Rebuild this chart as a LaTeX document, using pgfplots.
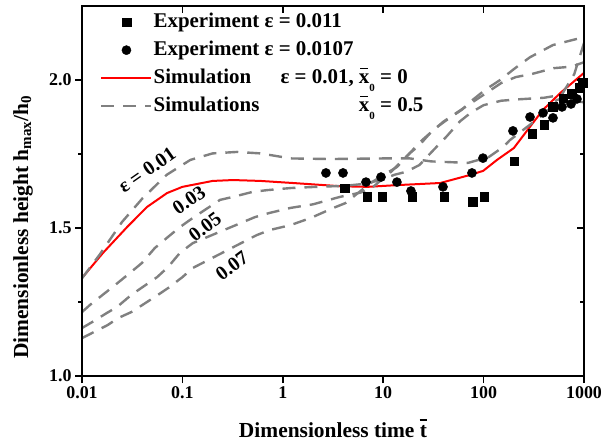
\documentclass[border=0pt]{standalone}
\usepackage{fontspec}
\setmainfont{Liberation Serif}
\usepackage{pgfplots}
\pgfplotsset{compat=1.18}

\definecolor{simgray}{RGB}{128,128,128}
% a letter with a short bar above it
\newcommand{\ovbar}[2]{\ooalign{#1\cr\hidewidth\raisebox{#2}{\rule{0.36em}{0.075em}}\hidewidth\cr}}
\newcommand{\xzero}{\ovbar{x}{0.66em}\raisebox{-0.38em}{\fontsize{11}{11}\selectfont 0}}
\tikzset{simdash/.style={simgray, line width=2.4bp, dash pattern=on 13bp off 9bp}}
\pgfplotsset{
  markleg/.style={legend image code/.code={\path (0bp,0bp) (50bp,0bp); \draw[##1] plot coordinates {(25bp,0bp)};}},
  lineleg/.style={legend image code/.code={\draw[##1] (0bp,0bp) -- (50bp,0bp);}},
}

\begin{document}
\begin{tikzpicture}
\begin{semilogxaxis}[
  name=main,
  scale only axis, width=502bp, height=370bp,
  xmin=0.01, xmax=1000, ymin=1.0, ymax=2.25,
  xtick={0.01,0.1,1,10,100,1000}, xminorticks=false,
  ytick={1.0,1.5,2.0}, minor ytick={1.25,1.75},
  major tick length=7bp, minor tick length=4bp,
  every tick/.style={black, line width=1.6bp},
  axis line style={line width=2bp},
  tick align=outside, xtick pos=lower, ytick pos=left,
  xticklabels={0.01,0.1,1,10,100,1000},
  yticklabels={1.0,1.5,2.0},
  ticklabel style={font=\bfseries\fontsize{18}{18}\selectfont},
  xlabel={Dimensionless time \ovbar{t}{0.76em}},
  ylabel={Dimensionless height h\textsubscript{max}/h\textsubscript{0}},
  label style={font=\bfseries\fontsize{21.5}{21.5}\selectfont},
  xlabel style={at={(axis description cs:0.5,-0.165)}, anchor=base},
  ylabel style={at={(axis description cs:-0.1175,0.402)}, anchor=center},
  legend cell align=left,
  legend style={draw=none, fill=none, at={(axis description cs:0.03,0.992)}, anchor=north west,
    font=\bfseries\fontsize{21}{21}\selectfont,
    nodes={inner sep=1bp, text height=15bp, text depth=5bp}, row sep=6bp},
]
% Experiment, eps = 0.011
\addplot[only marks, mark=square*, mark size=4.3bp, black, markleg]
  coordinates {
  (4.16,1.635) (6.9,1.605) (9.73,1.605) (19.4,1.605) (40.4,1.605) (78.4,1.588) (101,1.605)
  (201,1.726) (304,1.818) (400,1.848) (491,1.909) (618,1.939) (759,1.953) (912,1.973) (977,1.99)
  };
\addlegendentry{Experiment ε = 0.011}
% Experiment, eps = 0.0107
\addplot[only marks, mark=*, mark size=4.6bp, black, markleg]
  coordinates {
  (2.69,1.686) (3.98,1.686) (6.74,1.655) (9.51,1.672) (13.7,1.655) (18.9,1.625) (39.4,1.639)
  (76.6,1.686) (98.6,1.736) (196,1.828) (290,1.875) (391,1.889) (491,1.872) (604,1.909)
  (743,1.919) (851,1.936)
  };
\addlegendentry{Experiment ε = 0.0107}
% Simulation, eps = 0.01, x0 = 0
\addplot[red, line width=2bp, lineleg]
  coordinates {
  (0.01,1.331) (0.0162,1.416) (0.0281,1.503) (0.0444,1.571) (0.0703,1.618) (0.1,1.639)
  (0.2,1.659) (0.32,1.662) (0.6,1.659) (1.26,1.652) (3.8,1.641) (7,1.639) (14,1.645)
  (37,1.652) (73,1.679) (99,1.693) (136,1.73) (200,1.77) (310,1.855) (390,1.899)
  (580,1.956) (1000,2.024)
  };
\addlegendentry{Simulation\hspace{1.4em}ε = 0.01, \xzero\ = 0}
% Simulations, x0 = 0.5: eps = 0.01
\addplot[simdash, lineleg]
  coordinates {
  (0.01,1.33) (0.015,1.41) (0.025,1.52) (0.04,1.60) (0.07,1.68) (0.12,1.73) (0.2,1.752)
  (0.35,1.757) (0.6,1.752) (1.2,1.735) (3,1.733) (10,1.735) (18.5,1.735) (30,1.725)
  (70,1.72) (113,1.74) (157,1.774) (183,1.797) (270,1.841) (424,1.892) (533,1.932)
  (688,1.943) (920,1.926) (1000,1.925)
  };
\addlegendentry{\rlap{Simulations}\phantom{Simulation\hspace{1.4em}ε = 0.01, }\xzero\ = 0.5}
% eps = 0.03
\addplot[simdash, forget plot] coordinates {
  (0.01,1.216) (0.012,1.24) (0.0169,1.28) (0.0213,1.307) (0.03,1.348) (0.0396,1.382)
  (0.053,1.432) (0.072,1.47) (0.0945,1.503) (0.127,1.534) (0.237,1.595) (0.319,1.605)
  (0.5,1.622) (0.7,1.628) (1.2,1.635) (2.5,1.64) (4,1.642) (6,1.648) (9,1.66) (13,1.68)
  (17,1.69) (23,1.713) (31,1.76) (43,1.81) (58,1.86) (75,1.89) (100,1.915) (150,1.93)
  (230,1.935) (400,1.94) (600,1.95) (800,2.02) (1000,2.125)
  };
% eps = 0.05
\addplot[simdash, forget plot] coordinates {
  (0.01,1.162) (0.0126,1.182) (0.0177,1.213) (0.0223,1.233) (0.031,1.274) (0.04,1.30)
  (0.056,1.334) (0.072,1.368) (0.0945,1.416) (0.127,1.449) (0.53,1.537) (0.74,1.551)
  (1.2,1.568) (2,1.58) (3.7,1.605) (6,1.62) (8,1.64) (12,1.69) (18,1.75) (25,1.80)
  (40,1.86) (60,1.90) (100,1.95) (150,1.99) (210,2.01) (300,2.02) (500,2.04) (750,2.045)
  (1000,2.06)
  };
% eps = 0.07
\addplot[simdash, forget plot] coordinates {
  (0.01,1.128) (0.018,1.172) (0.023,1.196) (0.031,1.216) (0.04,1.24) (0.057,1.274)
  (0.072,1.297) (0.1,1.334) (0.127,1.365) (0.55,1.476) (0.74,1.493) (1.2,1.51)
  (1.9,1.534) (3.2,1.568) (4.2,1.584) (5.6,1.618) (7.5,1.652) (9.3,1.672) (13.7,1.706)
  (18.5,1.753) (23,1.78) (31,1.83) (43,1.865) (61,1.9) (76,1.93) (103,1.966) (146,2.0)
  (206,2.04) (290,2.077) (490,2.118) (1000,2.145)
  };
% curve labels
\begin{scope}[every node/.style={inner sep=0pt, font=\bfseries\fontsize{20}{20}\selectfont}]
\node[rotate=35] at (axis cs:0.0444,1.696) {ε = 0.01};
\node[rotate=34] at (axis cs:0.1164,1.595) {0.03};
\node[rotate=37] at (axis cs:0.168,1.503) {0.05};
\node[rotate=37] at (axis cs:0.312,1.372) {0.07};
\end{scope}
\end{semilogxaxis}
% mirrored ticks on top and right
\begin{semilogxaxis}[
  at={(main.south west)}, anchor=south west,
  scale only axis, width=502bp, height=370bp,
  xmin=0.01, xmax=1000, ymin=1.0, ymax=2.25,
  xtick={0.01,0.1,1,10,100,1000}, xminorticks=false,
  ytick={1.0,1.5,2.0}, minor ytick={1.25,1.75},
  major tick length=7bp, minor tick length=4bp,
  every tick/.style={black, line width=1.6bp},
  axis line style={line width=2bp},
  tick align=inside, xtick pos=upper, ytick pos=right,
  xticklabels={}, yticklabels={},
]
\end{semilogxaxis}
\pgfresetboundingbox
\path ([shift={(-82bp,-65bp)}]main.south west) rectangle ([shift={(24bp,6bp)}]main.north east);
\end{tikzpicture}
\end{document}
